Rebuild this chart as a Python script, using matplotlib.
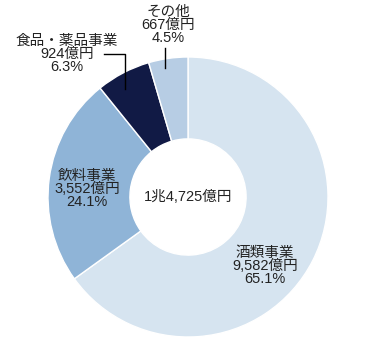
import matplotlib.pyplot as plt

plt.rcParams["font.family"] = ["Liberation Sans", "Noto Sans CJK JP", "DejaVu Sans"]

SEGMENTS = ["酒類事業", "飲料事業", "食品・薬品事業", "その他"]
AMOUNTS = [9582, 3552, 924, 667]
AMOUNT_LABELS = ["9,582億円", "3,552億円", "924億円", "667億円"]
SHARES = ["65.1%", "24.1%", "6.3%", "4.5%"]
COLORS = ["#d6e4f0", "#8fb4d7", "#111a45", "#b7cde4"]
TOTAL_LABEL = "1兆4,725億円"

W, H = 369, 347


def py(y):
    # image pixel row -> data y
    return H - y


def main() -> None:
    fig = plt.figure(figsize=(W / 100, H / 100), dpi=100)
    ax = fig.add_axes([0, 0, 1, 1])

    cx, cy, r = 188, py(197), 140
    ax.pie(
        AMOUNTS,
        colors=COLORS,
        startangle=90,
        counterclock=False,
        center=(cx, cy),
        radius=r,
        wedgeprops=dict(width=r * 0.585, edgecolor="white", linewidth=1),
        frame=True,
    )
    ax.set_xlim(0, W)
    ax.set_ylim(0, H)
    ax.set_aspect("equal")
    ax.axis("off")

    label_pos = [(265, 266), (87, 189), (67, 54), (168, 25)]
    for seg, amt, sh, (x, y) in zip(SEGMENTS, AMOUNT_LABELS, SHARES, label_pos):
        ax.text(x, py(y), f"{seg}\n{amt}\n{sh}", ha="center", va="center",
                fontsize=10.5, linespacing=0.95, color="#222222")

    ax.text(cx, cy, TOTAL_LABEL, ha="center", va="center", fontsize=10.5,
            color="#222222")

    # leader lines
    ax.plot([104, 125, 125], [py(54), py(54), py(89)], color="black", lw=1)
    ax.plot([165, 165], [py(48), py(68)], color="black", lw=1)

    fig.savefig("out.png", dpi=100)


if __name__ == "__main__":
    main()
